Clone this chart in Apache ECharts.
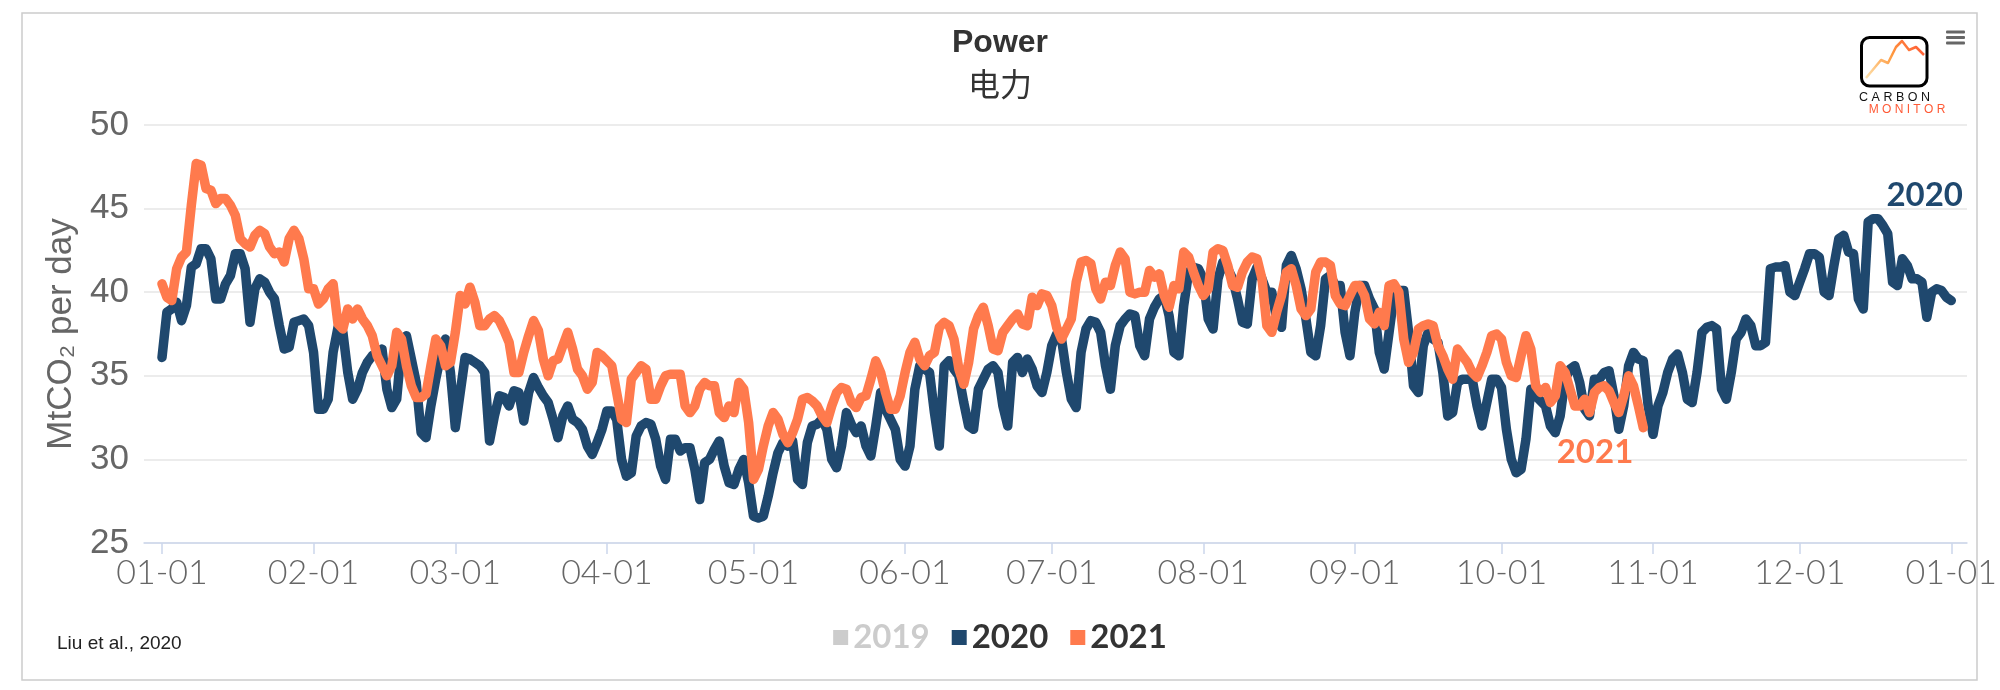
<!DOCTYPE html>
<html>
<head>
<meta charset="utf-8">
<script src="https://cdn.jsdelivr.net/npm/echarts@6/dist/echarts.min.js"></script>
<style>
html,body{margin:0;padding:0;background:#fff;}
#chart{width:2000px;height:690px;}
</style>
</head>
<body>
<div id="chart"></div>
<script>
// ---- data ----
const seriesNames = ['2019', '2020', '2021'];
const monthTickLabels = ['01-01','02-01','03-01','04-01','05-01','06-01','07-01','08-01','09-01','10-01','11-01','12-01','01-01'];
const yTicks = [25, 30, 35, 40, 45, 50];

const values2019 = [];

const values2020 = [
36.1,38.8,39.0,39.4,38.3,39.2,41.5,41.7,42.6,42.6,42.0,39.6,39.6,40.5,41.0,42.3,42.3,41.4,38.2,40.2,
40.8,40.6,40.0,39.6,38.0,36.6,36.7,38.2,38.3,38.4,38.0,36.4,33.0,33.0,33.6,36.4,37.9,37.6,35.2,33.6,
34.2,35.2,35.8,36.2,36.4,36.6,34.2,33.1,33.6,36.8,37.4,36.0,34.6,31.6,31.3,33.2,34.8,36.2,37.2,35.2,
31.9,34.0,36.1,36.0,35.8,35.6,35.2,31.1,32.6,33.8,33.7,33.2,34.1,34.0,32.3,34.0,34.9,34.3,33.8,33.4,
32.4,31.3,32.6,33.2,32.4,32.2,31.8,30.8,30.3,31.0,31.8,32.9,32.9,32.4,30.0,29.0,29.2,31.4,32.0,32.2,
32.1,31.2,29.6,28.8,31.2,31.2,30.5,30.7,30.7,29.4,27.6,29.8,30.0,30.6,31.1,29.6,28.6,28.5,29.4,30.0,
28.6,26.6,26.5,26.6,27.8,29.2,30.4,31.0,30.8,31.1,28.8,28.5,31.0,32.0,32.1,32.4,31.8,30.0,29.5,30.8,
32.8,32.1,31.6,32.0,30.8,30.2,32.0,34.0,33.0,32.4,31.8,30.0,29.6,30.8,34.2,35.6,35.4,35.2,32.8,30.8,
35.6,35.9,35.4,35.0,33.4,32.0,31.8,34.2,34.8,35.4,35.6,35.2,33.2,32.0,35.8,36.1,35.2,36.0,35.4,34.4,
34.0,35.2,36.8,37.5,37.2,35.2,33.6,33.1,36.4,37.8,38.3,38.2,37.6,35.6,34.2,36.8,38.0,38.4,38.7,38.6,
36.8,36.2,38.4,39.1,39.6,39.8,38.6,36.4,36.2,39.2,41.2,41.5,41.4,40.8,38.4,37.8,40.8,41.8,41.4,40.8,
39.6,38.2,38.1,40.8,41.5,40.8,40.0,40.0,38.4,37.9,41.6,42.2,41.4,40.2,38.4,36.4,36.2,38.0,40.8,41.0,
40.4,40.4,37.6,36.2,38.8,40.4,40.4,39.6,39.0,36.4,35.4,37.6,39.8,40.1,40.1,37.6,34.4,34.0,36.8,37.6,
37.2,37.0,35.2,32.6,32.8,34.6,34.8,34.8,34.8,33.2,32.0,33.4,34.8,34.8,34.3,31.8,30.0,29.2,29.4,31.2,
34.2,33.8,33.5,33.2,32.0,31.6,32.6,34.8,35.4,35.6,34.6,33.0,32.6,34.8,34.8,35.2,35.3,33.8,31.8,33.2,
35.6,36.4,36.0,35.9,33.2,31.5,33.2,34.0,35.2,36.0,36.3,35.2,33.6,33.4,35.2,37.6,37.9,38.0,37.8,34.2,
33.6,35.2,37.2,37.6,38.4,38.0,36.8,36.8,37.0,41.4,41.5,41.5,41.6,40.0,39.8,40.6,41.4,42.3,42.3,42.1,
40.0,39.8,41.6,43.2,43.4,42.4,42.3,39.6,39.0,44.2,44.4,44.4,44.0,43.5,40.6,40.4,42.0,41.6,40.8,40.8,
40.6,38.5,40.0,40.2,40.1,39.7,39.5
];

const values2021 = [
40.5,39.7,39.5,41.4,42.1,42.4,45.2,47.7,47.6,46.2,46.1,45.3,45.6,45.6,45.2,44.6,43.2,42.9,42.7,43.4,
43.7,43.5,42.7,42.3,42.4,41.8,43.2,43.7,43.2,42.0,40.2,40.2,39.3,39.6,40.2,40.5,38.1,37.8,39.0,38.4,
39.0,38.4,38.0,37.4,36.2,35.6,35.0,35.6,37.6,37.2,35.6,34.4,33.7,33.7,33.9,35.6,37.2,36.8,35.6,35.8,
37.6,39.8,39.3,40.3,39.4,38.0,38.0,38.4,38.6,38.3,37.7,37.0,35.2,35.2,36.4,37.4,38.3,37.7,36.0,35.0,
35.9,36.0,36.8,37.6,36.6,35.4,35.0,34.2,34.6,36.4,36.2,35.9,35.6,34.0,32.4,32.2,34.8,35.2,35.6,35.4,
33.6,33.6,34.4,35.0,35.1,35.1,35.1,33.2,32.8,33.2,34.2,34.6,34.4,34.4,32.8,32.5,33.2,32.8,34.6,34.2,
32.2,28.8,29.4,30.8,32.0,32.8,32.4,31.5,31.0,31.6,32.4,33.6,33.7,33.5,33.2,32.6,32.2,33.2,34.0,34.3,
34.2,33.4,33.1,33.7,33.8,34.8,35.9,35.2,34.0,33.0,33.0,33.8,35.2,36.4,37.0,36.0,35.6,36.2,36.4,37.9,
38.2,38.0,37.2,35.4,34.5,35.8,37.8,38.6,39.1,38.0,36.6,36.5,37.6,38.0,38.4,38.7,38.1,38.0,39.7,39.2,
39.9,39.8,39.2,37.9,37.2,37.8,38.4,40.6,41.8,41.9,41.7,40.2,39.6,40.6,40.4,41.6,42.4,42.0,40.0,39.9,
40.0,40.0,41.3,40.9,41.1,39.8,39.1,40.4,40.2,42.4,42.1,41.2,40.4,39.8,40.2,42.4,42.6,42.5,41.6,40.4,
40.3,41.2,41.8,42.1,42.0,40.8,38.0,37.6,38.8,39.8,41.2,41.4,40.4,39.0,38.6,39.0,41.2,41.8,41.8,41.6,
39.8,39.3,39.2,39.8,40.4,40.4,39.8,38.4,38.1,38.8,38.0,40.4,40.5,40.0,37.2,35.8,36.4,37.8,38.0,38.1,
38.0,36.8,36.2,35.4,34.8,36.6,36.2,35.8,35.2,34.9,35.6,36.4,37.4,37.5,37.2,35.8,35.0,34.9,36.2,37.4,
36.6,34.4,34.0,34.3,33.4,33.8,35.6,35.2,34.2,33.2,33.2,33.6,32.8,34.0,34.3,34.4,34.1,33.4,32.8,33.8,
35.0,34.4,33.2,31.9
];

// day categories of the (leap) year 2020 plus the closing 01-01
const categories = [];
for (let d = 0; d < 366; d++) {
  const dt = new Date(Date.UTC(2020, 0, 1 + d));
  categories.push(String(dt.getUTCMonth() + 1).padStart(2, '0') + '-' + String(dt.getUTCDate()).padStart(2, '0'));
}
categories.push(monthTickLabels[monthTickLabels.length - 1]);

// ---- chart ----
const BLUE = '#1f486e';
const ORANGE = '#ff7a4d';
const isMonthStart = (idx) => monthTickLabels.indexOf(categories[idx]) >= 0;

const chart = echarts.init(document.getElementById('chart'));
chart.setOption({
  animation: false,
  backgroundColor: '#fff',
  title: {
    text: 'Power',
    subtext: '电力',
    left: 'center',
    top: 22,
    itemGap: 9,
    textStyle: {fontFamily: 'Liberation Sans, Arial, sans-serif', fontSize: 32, fontWeight: 'bold', color: '#333'},
    subtextStyle: {fontFamily: 'Noto Sans CJK SC', fontSize: 32, color: '#333'}
  },
  legend: {
    data: seriesNames,
    selected: {'2019': false},
    left: 'center',
    top: 616,
    icon: 'rect',
    itemWidth: 15,
    itemHeight: 15,
    itemGap: 22,
    inactiveColor: '#cccccc',
    textStyle: {fontFamily: 'Lato, sans-serif', fontSize: 33, fontWeight: 'bold', color: '#333'}
  },
  grid: [
    {left: 144, right: 33, top: 125, bottom: 147},
    {left: 162, right: 48, top: 125, bottom: 147}
  ],
  xAxis: [
    {
      gridIndex: 0, type: 'value', min: 0, max: 1,
      axisLine: {show: true, lineStyle: {color: '#ccd6eb', width: 1.5}},
      axisTick: {show: false}, axisLabel: {show: false}, splitLine: {show: false}
    },
    {
      gridIndex: 1, type: 'category', data: categories, boundaryGap: false,
      axisLine: {show: false},
      axisTick: {show: true, interval: isMonthStart, length: 11, lineStyle: {color: '#ccd6eb', width: 1.5}},
      axisLabel: {interval: isMonthStart, margin: 13, fontFamily: 'Lato, sans-serif', fontWeight: 300, fontSize: 34, color: '#666'},
      splitLine: {show: false}
    }
  ],
  yAxis: [
    {
      gridIndex: 0, type: 'value', min: yTicks[0], max: yTicks[yTicks.length - 1], interval: yTicks[1] - yTicks[0],
      name: 'MtCO₂ per day', nameLocation: 'middle', nameGap: 56,
      nameTextStyle: {fontFamily: 'Liberation Sans, DejaVu Sans, sans-serif', fontSize: 35, color: '#666'},
      axisLine: {show: false}, axisTick: {show: false},
      axisLabel: {margin: 15, fontFamily: 'Liberation Sans, Arial, sans-serif', fontSize: 35, color: '#666'},
      splitLine: {show: true, lineStyle: {color: '#e6e6e6', width: 1.5}}
    },
    {
      gridIndex: 1, type: 'value', min: yTicks[0], max: yTicks[yTicks.length - 1], interval: yTicks[1] - yTicks[0],
      show: false
    }
  ],
  series: [
    {name: '2019', type: 'line', xAxisIndex: 1, yAxisIndex: 1, data: values2019, showSymbol: false,
     itemStyle: {color: '#cccccc'}, lineStyle: {width: 9.5, color: '#cccccc'}},
    {name: '2020', type: 'line', xAxisIndex: 1, yAxisIndex: 1, data: values2020, showSymbol: false, symbol: 'none',
     itemStyle: {color: BLUE}, lineStyle: {width: 9.5, color: BLUE, join: 'round', cap: 'round'}, z: 2},
    {name: '2021', type: 'line', xAxisIndex: 1, yAxisIndex: 1, data: values2021, showSymbol: false, symbol: 'none',
     itemStyle: {color: ORANGE}, lineStyle: {width: 9.5, color: ORANGE, join: 'round', cap: 'round'}, z: 3}
  ],
  graphic: [
    {type: 'rect', shape: {x: 22, y: 13, width: 1955, height: 667}, style: {fill: 'none', stroke: '#cccccc', lineWidth: 1.5}, silent: true},
    // menu icon
    {type: 'rect', shape: {x: 1946, y: 30.5, width: 19, height: 3, r: 1}, style: {fill: '#666'}},
    {type: 'rect', shape: {x: 1946, y: 36, width: 19, height: 3, r: 1}, style: {fill: '#666'}},
    {type: 'rect', shape: {x: 1946, y: 41.5, width: 19, height: 3, r: 1}, style: {fill: '#666'}},
    // logo
    {type: 'rect', shape: {x: 1861.5, y: 37.5, width: 65.5, height: 48.5, r: 8}, style: {fill: 'none', stroke: '#000', lineWidth: 3}},
    {type: 'polyline', shape: {points: [[1866, 78], [1881, 60], [1888, 63], [1896, 47], [1902, 41], [1909, 50], [1916, 47], [1924, 55]]},
     style: {fill: 'none', lineWidth: 2.5, lineJoin: 'round',
       stroke: new echarts.graphic.LinearGradient(0, 1, 1, 0, [{offset: 0, color: '#fde9b8'}, {offset: 0.5, color: '#ff9a40'}, {offset: 1, color: '#ff4b33'}])}},
    {type: 'text', x: 1894.5, y: 97.5, style: {text: 'C A R B O N', font: '12.5px Liberation Sans, Arial, sans-serif', fill: '#111', textAlign: 'center', textVerticalAlign: 'middle'}},
    {type: 'text', x: 1907, y: 109.5, style: {text: 'M O N I T O R', font: '12px Liberation Sans, Arial, sans-serif', textAlign: 'center', textVerticalAlign: 'middle', fill: '#ff5a36'}},
    // credits
    {type: 'text', x: 57, y: 644, style: {text: 'Liu et al., 2020', font: '19px Liberation Sans, Arial, sans-serif', fill: '#222', textAlign: 'left', textVerticalAlign: 'middle'}},
    // series annotations
    {type: 'text', x: 1963, y: 195, style: {text: '2020', font: 'bold 33px Lato, sans-serif', fill: BLUE, textAlign: 'right', textVerticalAlign: 'middle'}, z: 10},
    {type: 'text', x: 1595, y: 452, style: {text: '2021', font: 'bold 33px Lato, sans-serif', fill: ORANGE, textAlign: 'center', textVerticalAlign: 'middle'}, z: 10}
  ]
});
</script>
</body>
</html>
